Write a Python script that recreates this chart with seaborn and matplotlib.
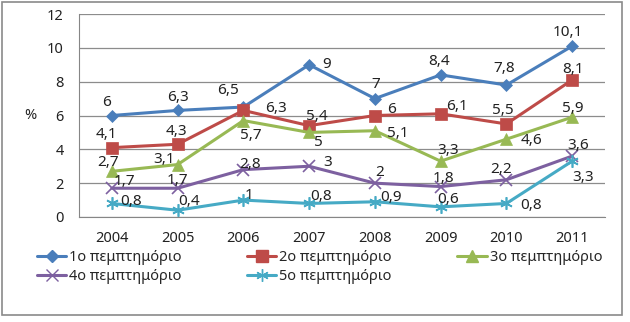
import matplotlib
matplotlib.use("Agg")
import matplotlib.pyplot as plt
import seaborn as sns
import pandas as pd
from matplotlib.lines import Line2D
from matplotlib.patches import Rectangle

years = [2004, 2005, 2006, 2007, 2008, 2009, 2010, 2011]
series_names = ["1ο πεμπτημόριο", "2ο πεμπτημόριο", "3ο πεμπτημόριο",
                "4ο πεμπτημόριο", "5ο πεμπτημόριο"]
q1 = [6, 6.3, 6.5, 9, 7, 8.4, 7.8, 10.1]
q2 = [4.1, 4.3, 6.3, 5.4, 6, 6.1, 5.5, 8.1]
q3 = [2.7, 3.1, 5.7, 5, 5.1, 3.3, 4.6, 5.9]
q4 = [1.7, 1.7, 2.8, 3, 2, 1.8, 2.2, 3.6]
q5 = [0.8, 0.4, 1, 0.8, 0.9, 0.6, 0.8, 3.3]
values = [q1, q2, q3, q4, q5]

# label offsets (pixels) -- styling only
label_offsets = [
    [(-5, 13), (0, 13), (-15, 17), (17, 0), (1, 14), (-2, 13), (-2, 17), (-4, 14)],
    [(-5, 13), (-1, 13), (33, 2), (8, 9), (17, 6), (16, 7), (-4, 13), (1, 10)],
    [(-4, 9), (-14, 5), (7, -15), (9, -10), (23, -3), (8, 11), (25, -1), (1, 9)],
    [(13, 7), (0, 8), (7, 5), (19, 4), (5, 11), (3, 8), (-5, 10), (6, 11)],
    [(19, 2), (11, 9), (6, 5), (12, 7), (16, 4), (8, 7), (25, -2), (11, -16)],
]

colors = ["#4A7EBB", "#BE4B48", "#98B954", "#7D60A0", "#46AAC5"]
markers = ["D", "s", "^", "x", (6, 2, 0)]
msizes = [6, 8, 8, 8, 9]

sns.set_style("white")
plt.rcParams['font.family'] = ['Noto Sans', 'DejaVu Sans']

rows = []
for name, vals in zip(series_names, values):
    for y, v in zip(years, vals):
        rows.append({"year": y, "value": v, "series": name})
df = pd.DataFrame(rows)

fig = plt.figure(figsize=(6.3, 3.22), dpi=100)
ax = fig.add_axes([79 / 630, 1 - 217 / 322, (605 - 79) / 630, (217 - 14) / 322])

for i, name in enumerate(series_names):
    sub = df[df["series"] == name]
    sns.lineplot(data=sub, x="year", y="value", ax=ax, color=colors[i],
                 marker=markers[i], markersize=msizes[i], linewidth=2.2,
                 markeredgecolor=colors[i], markeredgewidth=1.2 if i >= 3 else 0.5,
                 legend=False, zorder=3)
    for j, (y, v) in enumerate(zip(years, values[i])):
        dx, dy = label_offsets[i][j]
        ax.annotate(f"{v:g}".replace(".", ","), (y, v), xytext=(dx, dy),
                    textcoords="offset pixels", ha="center", va="center",
                    fontsize=11, color="#222222", zorder=4)

ax.set_xlim(2003.5, 2011.5)
ax.set_ylim(0, 12)
ax.set_yticks(range(0, 13, 2))
ax.set_xticks(years)
ax.set_xticklabels([str(y) for y in years])
ax.set_xticks([y + 0.5 for y in years[:-1]], minor=True)
ax.tick_params(axis="x", which="major", length=0, labelsize=10.5, pad=10, colors="#222222")
ax.tick_params(axis="x", which="minor", length=5, width=1, color="#868686", direction="out")
ax.tick_params(axis="y", length=0, labelsize=10.5, pad=11, colors="#222222")
ax.grid(axis="y", color="#8C8C8C", linewidth=0.9)
ax.set_axisbelow(True)
for s in ["top", "right"]:
    ax.spines[s].set_visible(False)
ax.spines["left"].set_color("#868686")
ax.spines["bottom"].set_color("#868686")
ax.set_xlabel("")
ax.set_ylabel("%", rotation=0, fontsize=10.5, va="center")
ax.yaxis.set_label_coords(-0.092, 0.5)

handles = []
for i, name in enumerate(series_names):
    handles.append(Line2D([], [], color=colors[i], marker=markers[i],
                          markersize=msizes[i], linewidth=2.2,
                          markeredgecolor=colors[i], label=name))
order = [0, 3, 1, 4, 2]
fig.legend([handles[k] for k in order], [series_names[k] for k in order],
           ncol=3, loc="upper left", bbox_to_anchor=(37 / 630, 1 - 250 / 322),
           frameon=False, fontsize=10.5, handlelength=2.0, handletextpad=0.2,
           columnspacing=4.5, labelspacing=0.3, borderaxespad=0, borderpad=0)

fig.patches.append(Rectangle((2 / 630, 1 - 315 / 322), 620 / 630, 313 / 322,
                             transform=fig.transFigure, fill=False,
                             edgecolor="#8A8A8A", linewidth=1.2))

fig.savefig("out.png", dpi=100)
